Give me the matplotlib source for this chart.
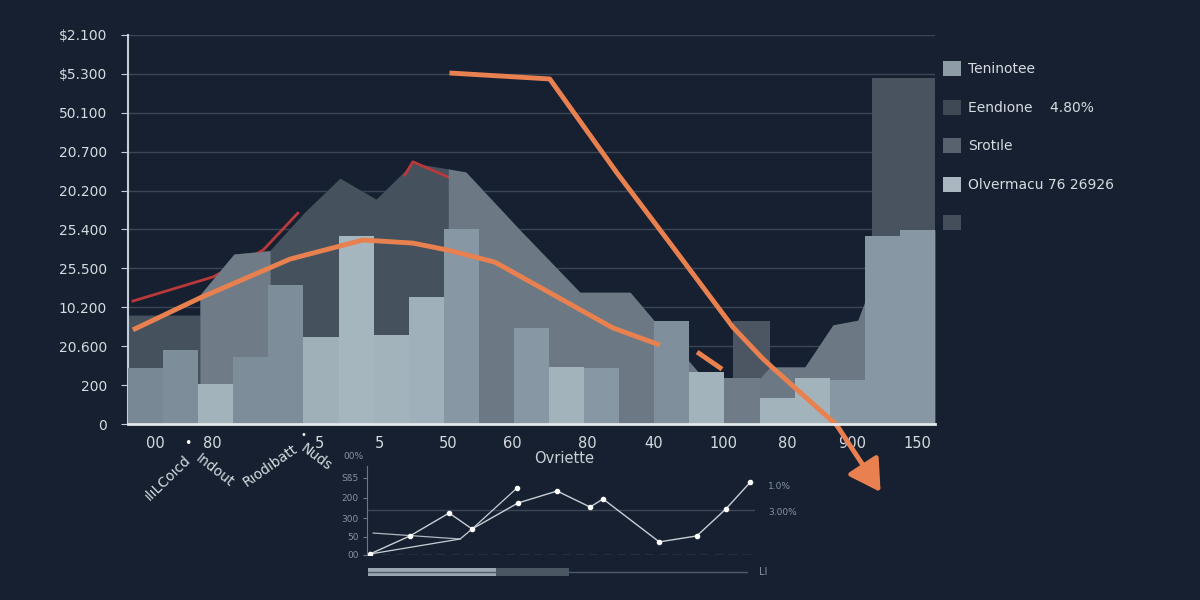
import matplotlib
matplotlib.use('Agg')
import matplotlib.pyplot as plt
import numpy as np
from matplotlib.patches import Patch

# --- data (y in grid units 0..10, x in bar slots) ---
y_ticks = [0, 1, 2, 3, 4, 5, 6, 7, 8, 9, 10]
y_labels = ['0', '200', '20.600', '10.200', '25.500', '25.400',
            '20.200', '20.700', '50.100', '$5.300', '$2.100']

x_tick_pos = [0.77, 2.39, 5.47, 7.18, 9.12, 10.94, 13.08, 14.99, 16.98, 18.8, 20.63, 22.51]
x_labels = ['00', '80', '5', '5', '50', '60', '80', '40', '100', '80', '900', '150']

bar_heights = [1.44, 1.90, 1.03, 1.72, 3.57, 2.24, 4.83, 2.29, 3.26, 5.01, 0,
               2.47, 1.47, 1.44, 0, 2.65, 1.34, 1.18, 0.67, 1.18, 1.13, 4.83, 4.99]
bar_colors = ['#788894', '#7d8d99', '#a3b3bc', '#7d8d99', '#7d8d99', '#9fb0b9',
              '#a6b6bf', '#a3b3bc', '#a0b0ba', '#8797a3', '#8797a3', '#8797a3',
              '#a3b3bc', '#8797a3', '#8797a3', '#7f8f9b', '#a3b3bc', '#6f7b87',
              '#a3b3bc', '#a3b3bc', '#8797a3', '#8797a3', '#8797a3']

# dark background mountain
dark_x = [0, 2.05, 2.05, 3.02, 4.05, 5.04, 6.04, 7.07, 8.12, 9.12]
dark_y = [2.80, 2.80, 3.32, 4.37, 4.47, 5.45, 6.32, 5.78, 6.71, 6.56]
dark_bar_x = [17.25, 21.2]
dark_bar_w = [1.05, 1.8]
dark_bar_h = [2.65, 8.89]

# mid-grey ribbons
mid_left_x = [2.05, 3.02, 4.05]
mid_left_y = [3.32, 4.37, 4.45]
mid_right_x = [9.12, 9.63, 11.17, 12.88, 14.31, 15.22, 16.25, 17.24, 18.30,
               19.29, 20.09, 20.80, 21.23, 22.0, 23.0]
mid_right_y = [6.56, 6.48, 4.99, 3.39, 3.39, 2.42, 1.34, 0.41, 1.47,
               1.47, 2.55, 2.67, 3.70, 4.81, 4.99]

red_x = [0.14, 2.42, 3.85, 4.84, np.nan, 7.89, 8.12, 9.12]
red_y = [3.16, 3.78, 4.47, 5.42, np.nan, 6.40, 6.74, 6.35]

orange_x = [0.14, 2.05, 4.62, 6.70, 8.12, 9.12, 10.46, 13.82, 15.16, np.nan, 16.22, 16.93]
orange_y = [2.42, 3.24, 4.24, 4.73, 4.65, 4.47, 4.16, 2.47, 2.03, np.nan, 1.85, 1.41]

trend_x = [9.23, 12.02, 13.94, 15.53, 17.24, 18.07, 18.38, 20.20]
trend_y = [9.02, 8.87, 6.45, 4.55, 2.49, 1.70, 1.44, -0.03]
trend_tip = (21.45, -1.75)

legend_labels = ['Teninotee', 'Eendıone    4.80%', 'Srotıle', 'Olvermacu 76 26926', '']
legend_colors = ['#8e9ca8', '#3e4955', '#57626e', '#aab7c0', '#434e5a']

# inset
in_a_x = [0.09, 1.33, 2.54, 3.25, 4.67, 5.88, 6.9, 7.3, 9.04, 10.2, 11.1, 11.86]
in_a_y = [0.05, 0.99, 2.18, 1.35, 2.7, 3.32, 2.49, 2.91, 0.68, 0.99, 2.39, 3.79]
in_b_x = [0.09, 2.88, 3.25, 4.64]
in_b_y = [0.05, 0.83, 1.35, 3.48]
in_c_x = [0.19, 2.88]
in_c_y = [1.14, 0.83]
in_yticks = [0, 0.94, 1.92, 2.96, 4.0]
in_ylabels = ['00', '50', '300', '200', 'Sß5']
progress = [0.337, 0.192]

bg = '#172030'
txt = '#d5dbe0'

fig = plt.figure(figsize=(12, 6), dpi=100, facecolor=bg)
ax = fig.add_axes([128 / 1200, 176 / 600, 807 / 1200, 389 / 600])
ax.set_facecolor(bg)
ax.set_xlim(0, 23)
ax.set_ylim(0, 10)

ax.fill_between(dark_x, dark_y, 0, color='#45515d', lw=0, zorder=1)
ax.bar(dark_bar_x, dark_bar_h, width=dark_bar_w, align='edge', color=['#4b5662', '#48535f'], zorder=1)
ax.plot(red_x, red_y, color='#b9393a', lw=2, zorder=2)
ax.fill_between(mid_left_x, mid_left_y, 0, color='#6f7c88', lw=0, zorder=3)
ax.fill_between(mid_right_x, mid_right_y, 0, color='#6c7985', lw=0, zorder=3)
ax.bar(np.arange(len(bar_heights)), bar_heights, width=1.0, align='edge',
       color=bar_colors, zorder=4)
ax.plot(orange_x, orange_y, color='#e8804f', lw=3.5, zorder=5, solid_capstyle='butt')
ax.plot(trend_x, trend_y, color='#e8804f', lw=3.5, zorder=6, clip_on=False)
ax.annotate('', xy=trend_tip, xytext=(trend_x[-1], trend_y[-1]), annotation_clip=False,
            arrowprops=dict(arrowstyle='-|>,head_length=1.9,head_width=1.1',
                            color='#e8804f', lw=3.5, shrinkA=0, shrinkB=0), zorder=6)

ax.set_yticks(y_ticks)
ax.set_yticklabels(y_labels, color=txt, fontsize=10)
ax.set_xticks(x_tick_pos)
ax.set_xticklabels(x_labels, color=txt, fontsize=10.5)
ax.tick_params(axis='y', length=5, color='#c5ced6', pad=10)
ax.tick_params(axis='x', length=0, pad=9)
ax.grid(axis='y', color='#3a4656', lw=1, zorder=0)
ax.set_axisbelow(True)
for s in ['top', 'right']:
    ax.spines[s].set_visible(False)
ax.spines['left'].set_color('#c5ced6')
ax.spines['left'].set_linewidth(1.5)
ax.spines['bottom'].set_color('#e2e8ec')
ax.spines['bottom'].set_linewidth(2)
ax.spines['bottom'].set_zorder(7)

# rotated category labels under the axis
fig.text(168 / 1200, 1 - 478 / 600, 'ılıLCoıcd', rotation=44, color=txt, fontsize=10, ha='center', va='center')
fig.text(215 / 1200, 1 - 471 / 600, 'Indout', rotation=-38, color=txt, fontsize=10, ha='center', va='center')
fig.text(270 / 1200, 1 - 466 / 600, 'Rıodıbatt', rotation=35, color=txt, fontsize=10, ha='center', va='center')
fig.text(316 / 1200, 1 - 457 / 600, 'Nuds', rotation=-37, color=txt, fontsize=10, ha='center', va='center')
fig.text(188 / 1200, 1 - 444 / 600, '•', color='white', fontsize=9, ha='center', va='center')
fig.text(303 / 1200, 1 - 435 / 600, '•', color='white', fontsize=7, ha='center', va='center')

handles = [Patch(facecolor=c, edgecolor='none') for c in legend_colors]
fig.legend(handles, legend_labels, loc='upper left', bbox_to_anchor=(943 / 1200, 1 - 61 / 600),
           frameon=False, fontsize=10, labelcolor=txt, handlelength=1.3, handleheight=1.3,
           handletextpad=0.5, labelspacing=1.68, borderpad=0, borderaxespad=0)

# inset chart
ai = fig.add_axes([367 / 1200, 45 / 600, 388 / 1200, 89 / 600])
ai.set_facecolor('none')
ai.set_xlim(0, 12)
ai.set_ylim(0, 4.62)
ai.axhline(2.34, color='#3a4656', lw=1)
ai.axhline(0, color='#5d6976', lw=1, ls=(0, (6, 4)))
ai.plot(in_c_x, in_c_y, color='#aeb8c1', lw=0.9)
ai.plot(in_b_x, in_b_y, color='#c8cfd6', lw=0.9)
ai.plot(in_a_x, in_a_y, color='#c8cfd6', lw=1, marker='o', ms=3, mfc='white', mec='white')
ai.plot(in_b_x[-1], in_b_y[-1], 'o', ms=3, color='white')
ai.set_yticks(in_yticks)
ai.set_yticklabels(in_ylabels, color='#8591a0', fontsize=6.5)
ai.set_xticks([])
ai.tick_params(axis='y', length=3, color='#6b7784', pad=3)
for s in ['top', 'right', 'bottom']:
    ai.spines[s].set_visible(False)
ai.spines['left'].set_color('#6b7784')
ai.text(-0.43, 5.09, '00%', color='#8591a0', fontsize=6.5, ha='center', va='center', clip_on=False)
ai.text(12.4, 3.58, '1.0%', color='#8591a0', fontsize=6.5, va='center', clip_on=False)
ai.text(12.4, 2.23, '3.00%', color='#8591a0', fontsize=6.5, va='center', clip_on=False)
ai.text(6.1, 5.0, 'Ovriette', color='#c9d0d6', fontsize=10.5, ha='center', va='center', clip_on=False)

# progress strip
ap = fig.add_axes([368 / 1200, 24 / 600, 380 / 1200, 8 / 600])
ap.set_facecolor('none')
ap.set_xlim(0, 1)
ap.set_ylim(-0.5, 0.5)
ap.axhline(0, color='#4e5a67', lw=1)
ap.barh(0, progress[0], height=1, color='#9aa7b2')
ap.barh(0, progress[1], left=progress[0], height=1, color='#4b5663')
ap.axis('off')
ap.text(1.03, 0, 'LI', color='#8591a0', fontsize=7, va='center')

fig.savefig('out.png', dpi=100, facecolor=bg)
